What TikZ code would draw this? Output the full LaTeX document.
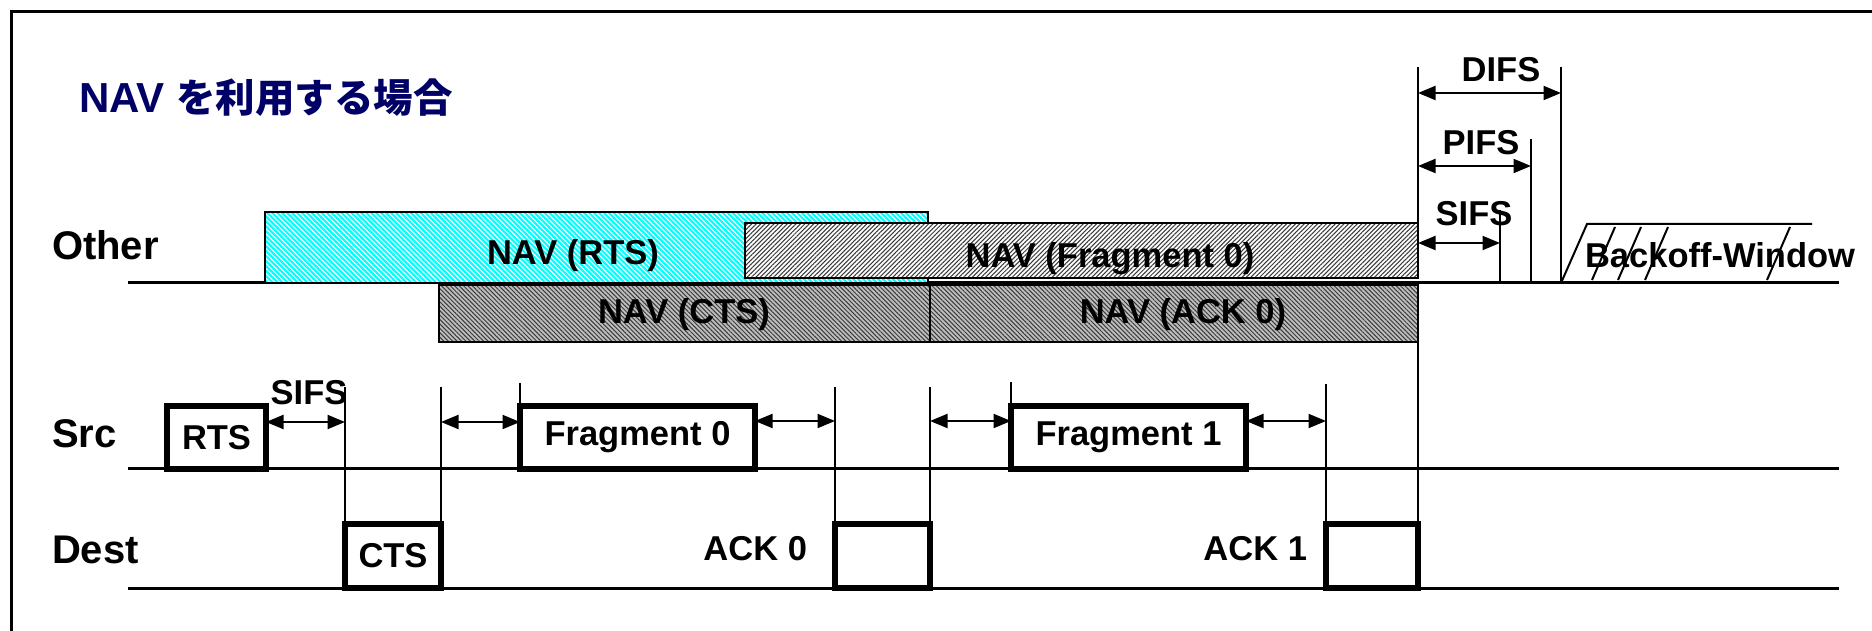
\documentclass[tikz,border=0pt]{standalone}
\usepackage{fontspec}
\setmainfont{Liberation Sans}
\newfontfamily\jpfont{Noto Sans CJK JP}
\usetikzlibrary{arrows.meta, patterns.meta, fit}
\definecolor{cnavy}{HTML}{000066}
\definecolor{ccyan}{HTML}{00FFFF}
\definecolor{cgrey}{HTML}{BEBEBE}
\definecolor{cdark}{HTML}{3A3A3A}
\tikzset{
  every picture/.style={line width=0.8pt},
  lbl/.style={font=\bfseries\fontsize{13.8}{16}\selectfont, inner sep=0pt},
  row/.style={font=\bfseries\fontsize{16}{19}\selectfont, inner sep=0pt, anchor=base west},
  title/.style={font=\bfseries\fontsize{16.8}{20}\selectfont, text=cnavy, inner sep=0pt, anchor=base west},
  pktbox/.style={draw, line width=2.1pt, fill=white, inner sep=0pt, outer sep=0pt},
  navcyan/.style={draw, line width=1pt, inner sep=0pt, outer sep=0pt, preaction={fill=ccyan},
    pattern={Lines[angle=-45, distance=1.4pt, line width=0.45pt]}, pattern color=white},
  navlight/.style={draw, line width=1pt, inner sep=0pt, outer sep=0pt, preaction={fill=white},
    pattern={Lines[angle=45, distance=1.25pt, line width=0.42pt]}, pattern color=cdark},
  navgrey/.style={draw, line width=1pt, inner sep=0pt, outer sep=0pt, preaction={fill=cgrey},
    pattern={Lines[angle=-45, distance=1.25pt, line width=0.4pt]}, pattern color=cdark},
  timeline/.style={line width=1.2pt},
  vline/.style={line width=0.8pt},
  gap/.style={{Triangle[length=7pt, width=5.6pt]}-{Triangle[length=7pt, width=5.6pt]}, line width=0.8pt},
}

\begin{document}
\begin{tikzpicture}[x=0.4pt, y=-0.4pt]
  % helper: a box fitted between two corners, named #1, text centred in it
  \newcommand{\pkt}[7]{% name, style, x1, y1, x2, y2, text
    \node[#2, fit={(#3,#4) (#5,#6)}, label={[lbl, name=#1t]center:#7}] (#1) {};}
  \useasboundingbox (0,0) rectangle (1872,631);
  \draw[line width=1.2pt] (1872,11.5) -- (11.5,11.5) -- (11.5,631);
  \node[title] (ttl) at (78,113) {NAV {\jpfont\fontsize{15.8}{20}\selectfont を利用する場合}};
  % stations
  \node[row] (lother) at (51,260) {Other};
  \node[row] (lsrc) at (51,448) {Src};
  \node[row] (ldest) at (51,563) {Dest};
  \foreach \y in {283, 469, 588} \draw[timeline] (128,\y) -- (1839,\y);
  % NAV of the other stations
  \pkt{navrts}{navcyan}{265}{212}{928}{283}{}
  \pkt{navfrag}{navlight}{745}{223}{1418}{278}{}
  \pkt{navcts}{navgrey}{439}{285}{930}{342}{}
  \pkt{navack}{navgrey}{930}{285}{1418}{342}{}
  \node[lbl] (lnavrts) at (573,256) {NAV (RTS)};
  \node[lbl] (lnavfrag) at (1110,259) {NAV (Fragment 0)};
  \node[lbl] (lnavcts) at (684,315) {NAV (CTS)};
  \node[lbl] (lnavack) at (1183,315) {NAV (ACK 0)};
  % frames of Src and Dest
  \pkt{rts}{pktbox}{167}{406}{266}{469}{RTS}
  \pkt{frag0}{pktbox}{520}{406}{755}{469}{Fragment 0}
  \pkt{frag1}{pktbox}{1011}{406}{1246}{469}{Fragment 1}
  \pkt{cts}{pktbox}{345}{524}{441}{588}{CTS}
  \pkt{ack0}{pktbox}{835}{524}{930}{588}{}
  \pkt{ack1}{pktbox}{1326}{524}{1418}{588}{}
  \node[lbl, anchor=base east] (lack0) at (808,560) {ACK 0};
  \node[lbl, anchor=base east] (lack1) at (1308,560) {ACK 1};
  % SIFS gaps
  \coordinate (m1) at (345,387); \coordinate (m2) at (441,387);
  \coordinate (m3) at (520,383); \coordinate (m4) at (835,387);
  \coordinate (m5) at (930,387); \coordinate (m6) at (1011,382);
  \coordinate (m7) at (1326,384);
  \draw[vline] (m1) -- (cts.north west);
  \draw[vline] (m2) -- (cts.north east);
  \draw[vline] (m3) -- (frag0.north west);
  \draw[vline] (m4) -- (ack0.north west);
  \draw[vline] (m5) -- (ack0.north east);
  \draw[vline] (m6) -- (frag1.north west);
  \draw[vline] (m7) -- (ack1.north west);
  \draw[vline] (navack.south east) -- (ack1.north east);
  \draw[gap] (rts.east |- 0,422) -- (m1 |- 0,422);
  \draw[gap] (cts.east |- 0,422) -- (frag0.west |- 0,422);
  \draw[gap] (frag0.east |- 0,421) -- (ack0.west |- 0,421);
  \draw[gap] (ack0.east |- 0,421) -- (frag1.west |- 0,421);
  \draw[gap] (frag1.east |- 0,421) -- (ack1.west |- 0,421);
  \node[lbl] (lsifs) at (309,393) {SIFS};
  % inter frame spaces and backoff
  \coordinate (difsL) at (1418,67); \coordinate (difsR) at (1561,67);
  \coordinate (pifsR) at (1531,139); \coordinate (sifsR) at (1500,210);
  \coordinate (bo0) at (1561,283); \coordinate (bo1) at (1587,224); \coordinate (bo2) at (1812,224);
  \draw[vline] (difsL) -- (navfrag.north east);
  \draw[vline] (difsR) -- (bo0);
  \draw[vline] (pifsR) -- (pifsR |- bo0);
  \draw[vline] (sifsR) -- (sifsR |- bo0);
  \draw[gap] (difsL |- 0,93) -- (difsR |- 0,93);
  \draw[gap] (difsL |- 0,166) -- (pifsR |- 0,166);
  \draw[gap] (difsL |- 0,243) -- (sifsR |- 0,243);
  \node[lbl] (ldifs) at (1501,70) {DIFS};
  \node[lbl] (lpifs) at (1481,143) {PIFS};
  \node[lbl] (lsifs2) at (1474,214) {SIFS};
  \draw[vline] (bo0) -- (bo1) -- (bo2);
  \foreach \x in {1592, 1618, 1645, 1767} \draw[vline] (\x,280) -- ++(23,-53);
  \node[lbl] (lback) at (1720,255) {Backoff-Window};
\end{tikzpicture}
\end{document}
